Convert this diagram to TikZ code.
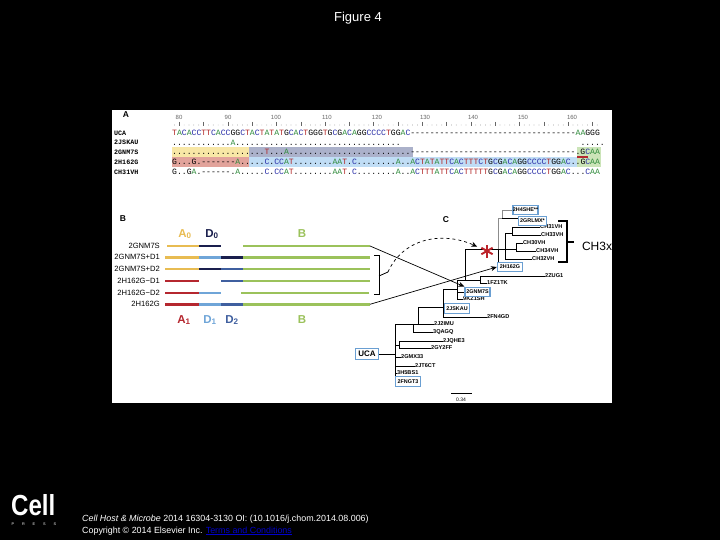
\documentclass[tikz,border=0pt]{standalone}
\usepackage{fontspec}
\setmainfont{Liberation Sans}
\setmonofont{Liberation Mono}
\usetikzlibrary{arrows.meta}
\definecolor{segyellow}{HTML}{E8BC52}
\definecolor{segnavy}{HTML}{1A1F4D}
\definecolor{seglight}{HTML}{6FA5D8}
\definecolor{segblue}{HTML}{3F5F9F}
\definecolor{seggreen}{HTML}{9BC25B}
\definecolor{segred}{HTML}{B5272F}
\definecolor{boxblue}{HTML}{6A9FD2}
\definecolor{hlyellow}{HTML}{F8E7A6}
\definecolor{hlgray}{HTML}{ABB1CA}
\definecolor{hlred}{HTML}{E2A39B}
\definecolor{hlblue}{HTML}{C0DDF5}
\definecolor{hlgreen}{HTML}{CBE4B8}
\definecolor{baseA}{HTML}{2E8B3A}
\definecolor{baseC}{HTML}{2A2FA8}
\definecolor{baseT}{HTML}{B02020}
% colours one alignment row letter by letter
\def\seqletter#1{%
  \ifx#1A\textcolor{baseA}{A}\else
  \ifx#1C\textcolor{baseC}{C}\else
  \ifx#1T\textcolor{baseT}{T}\else
  \ifx#1_\phantom{.}\else #1\fi\fi\fi\fi}
\def\seqrun#1{\ifx#1\relax\else\seqletter{#1}\expandafter\seqrun\fi}
\newcommand{\alnseq}[1]{\seqrun#1\relax}
\tikzset{
  seqrow/.style={anchor=west, inner sep=0pt, font=\fontsize{8.1}{9}\ttfamily},
  seqname/.style={anchor=west, inner sep=0pt, font=\fontsize{6.7}{8}\ttfamily\bfseries},
  rulernum/.style={inner sep=0pt, text=black!60, font=\fontsize{6}{7}\selectfont},
  panel/.style={inner sep=0pt, font=\fontsize{8.5}{10}\bfseries},
  segname/.style={inner sep=0pt, font=\fontsize{7.6}{9}\selectfont, anchor=east},
  seghead/.style={inner sep=0pt, font=\fontsize{11.5}{13}\bfseries},
  bar/.style={line width=2.4pt},
  branch/.style={line width=0.8pt},
  faint/.style={line width=0.6pt, black!45},
  leaf/.style={anchor=west, inner sep=0pt, font=\fontsize{5.6}{7}\bfseries},
  strain/.style={draw=boxblue, line width=1.3pt, fill=white, inner sep=0pt,
    minimum width=25pt, minimum height=9.5pt, font=\fontsize{5.4}{7}\bfseries},
  pointer/.style={line width=0.7pt, -{Stealth[length=6pt,width=5pt]}},
}
\begin{document}
\begin{tikzpicture}[x=1pt,y=-1pt]
\useasboundingbox (0,0) rectangle (720,540);
\fill[black] (0,0) rectangle (720,540);
\fill[white] (112,110) rectangle (612,403);
\node[text=white, font=\fontsize{13}{15}\selectfont] (title) at (358,18) {Figure 4};

% panel A
\node[panel] (lba) at (126,115) {A};
\fill[hlyellow] (172,147) rectangle (249,157);
\fill[hlgray] (249,147) rectangle (413,157);
\fill[hlred] (172,157) rectangle (249,167);
\fill[hlblue] (249,157) rectangle (577,167);
\fill[hlgreen] (577,147) rectangle (601,167);
\fill[segred] (577,155.6) rectangle (588,158);
\foreach \num/\xx in {80/179,90/228,100/276,110/327,120/377,130/425,140/473,150/523,160/572}
  \node[rulernum] at (\xx,117) {\num};
\foreach \i in {0,...,87} {
  \pgfmathsetmacro{\xx}{174.4+\i*4.86}
  \pgfmathtruncatemacro{\rr}{mod(\i+4,5)}
  \ifnum\rr=0 \draw[black!60, line width=0.4pt] (\xx,122) -- (\xx,126);
  \else \fill[black!60] (\xx,125) circle (0.35pt); \fi
}
\node[seqname] (uca0) at (114,133) {UCA};
\node[seqname] (jsk0) at (114,142.5) {2JSKAU};
\node[seqname] (gnm0) at (114,152) {2GNM7S};
\node[seqname] (h1620) at (114,162) {2H162G};
\node[seqname] (ch310) at (114,172) {CH31VH};
\node[seqrow] (ucaseq) at (172,133) {\alnseq{TACACCTTCACCGGCTACTATATGCACTGGGTGCGACAGGCCCCTGGAC----------------------------------AAGGG}};
\node[seqrow] (jskseq) at (172,142.5) {\alnseq{............A.................................._____________________________________.....}};
\node[seqrow] (gnmseq) at (172,152) {\alnseq{...................T...A.........................----------------------------------.GCAA}};
\node[seqrow] (h162seq) at (172,162) {\alnseq{G...G.-------A.....C.CCAT........AAT.C........A..ACTATATTCACTTTCTGCGACAGGCCCCTGGAC..GCAA}};
\node[seqrow] (ch31seq) at (172,172) {\alnseq{G..GA.------.A.....C.CCAT........AAT.C........A..ACTTTATTCACTTTTTGCGACAGGCCCCTGGAC...CAA}};

% panel B
\node[panel] (lbb) at (123,219) {B};
\node[seghead, text=segyellow] (a0) at (185,234) {A$_{\mathbf 0}$};
\node[seghead, text=segnavy] (d0) at (212,234) {D$_{\mathbf 0}$};
\node[seghead, text=seggreen] (b0) at (302,234) {B};
\node[seghead, text=segred] (a1) at (184,320) {A$_{\mathbf 1}$};
\node[seghead, text=seglight] (d1) at (210,320) {D$_{\mathbf 1}$};
\node[seghead, text=segblue] (d2) at (232,320) {D$_{\mathbf 2}$};
\node[seghead, text=seggreen] (b1) at (302,320) {B};
\foreach \txt/\yy in {2GNM7S/246,2GNM7S+D1/257.3,2GNM7S+D2/269,2H162G\textminus D1/281,2H162G\textminus D2/292.7,2H162G/304.3}
  \node[segname] at (160,\yy) {\txt};
\foreach \xa/\xb/\yy/\col in {
  167/199/246/segyellow, 199/221/246/segnavy, 243/370/246/seggreen,
  165/199/257.3/segyellow, 199/221/257.3/seglight, 221/243/257.3/segnavy, 243/370/257.3/seggreen,
  165/199/269/segyellow, 199/221/269/segnavy, 221/243/269/segblue, 243/370/269/seggreen,
  165/199/281/segred, 221/243/281/segblue, 243/370/281/seggreen,
  165/199/292.7/segred, 199/221/292.7/seglight, 241/369/292.7/seggreen,
  165/199/304.3/segred, 199/221/304.3/seglight, 221/243/304.3/segblue, 243/370/304.3/seggreen}
  \draw[bar, \col] (\xa,\yy) -- (\xb,\yy);
\coordinate (top7s) at (370,246);
\coordinate (top162) at (370,304.3);
\coordinate (brkmid) at (379,276);
\coordinate (brktip) at (388,272);
\draw[line width=0.8pt] (374,255.7) -- (379,255.7) -- (379,294.3) -- (374,294.3);
\draw[line width=0.8pt] (brkmid) -- (brktip);

% panel C
\node[panel] (lbc) at (446,220) {C};
\coordinate (n0) at (395,354);
\coordinate (n1) at (418,324);
\coordinate (n2) at (413,324);
\coordinate (n3) at (443,307);
\coordinate (n4) at (457,289);
\coordinate (n5) at (465,280);
\coordinate (n6) at (480,280);
\coordinate (n7) at (498,249);
\coordinate (n8) at (505,249);
\coordinate (n9) at (512,233);
\coordinate (n10) at (516,249);
\coordinate (n11) at (502,218);
\coordinate (n12) at (395,345);
\coordinate (n13) at (399,345);
\node[leaf] (ch31) at (540,227) {CH31VH};
\node[leaf] (ch33) at (541,235) {CH33VH};
\node[leaf] (ch30) at (523,243) {CH30VH};
\node[leaf] (ch34) at (536,251) {CH34VH};
\node[leaf] (ch32) at (532,259) {CH32VH};
\node[leaf] (zug) at (545,276) {2ZUG1};
\node[leaf] (fz) at (487,283) {1FZ1TK};
\node[leaf] (kz) at (463,299) {9KZ1SH};
\node[leaf] (fnd) at (487,317) {2FN4GD};
\node[leaf] (jmu) at (434,324) {2J2IMU};
\node[leaf] (qag) at (433,332) {3QAGQ};
\node[leaf] (jqh) at (443,341) {2JQHE3};
\node[leaf] (gyf) at (431,348) {2GY2FF};
\node[leaf] (gmx) at (401,357) {2GMX33};
\node[leaf] (jtc) at (415,366) {2JT6CT};
\node[leaf] (hbs) at (397,373) {3H5BS1};
\draw[branch] (n0) |- (n1);
\draw[branch] (n1) |- (jmu.west);
\draw[branch] (n2) |- (qag.west);
\draw[branch] (n1) |- (n3);
\draw[branch] (n3) |- (fnd.west);
\draw[branch] (n3) |- (n4);
\draw[branch] (n4) |- (n5);
\draw[branch] (n4) |- (kz.west);
\draw[branch] (n5) -- (n6);
\draw[line width=1pt] (n6) |- (zug.west);
\draw[branch] (n6) |- (fz.west);
\draw[branch] (n5) |- (n7);
\draw[branch] (n7) -- (n8);
\draw[branch] (n8) |- (ch32.west);
\draw[branch] (n8) |- (n9);
\draw[branch] (n9) |- (ch31.west);
\draw[branch] (n9) |- (ch33.west);
\draw[branch] (n8) -- (n10);
\draw[branch] (n10) |- (ch30.west);
\draw[branch] (n10) |- (ch34.west);
\draw[faint] (n7) |- (n11);
\draw[branch] (n0) |- (jtc.west);
\draw[branch] (n0) |- (gmx.west);
\draw[branch] (n0) |- (hbs.west);
\draw[branch] (n12) -- (n13);
\draw[line width=1pt] (n13) |- (jqh.west);
\draw[branch] (n13) |- (gyf.west);
\node[strain] (she) at (525.5,210) {2H4SHE**};
\node[strain, minimum width=28pt] (rlm) at (532.5,221) {2GRLMX*};
\node[strain] (h162) at (510,267) {2H162G};
\node[strain] (g7) at (477.5,292) {2GNM7S};
\node[strain] (jsk) at (457,308.5) {2JSKAU};
\node[strain] (fng) at (408,381.5) {2FNGT3};
\node[strain, minimum width=23pt, minimum height=11pt, font=\fontsize{8}{9}\bfseries] (uca) at (367,354) {UCA};
\draw[branch] (uca) -- (n0);
\draw[branch] (n7) -- (n7 |- h162.north);
\draw[branch] (n4) |- (g7.west);
\draw[branch] (n0) -- (n0 |- fng.north);
\draw[branch] (n11) -- (rlm.west |- n11);
\draw[faint] (n11) |- (she.west);

% CH3x clade bracket
\coordinate (clmid) at (567,242);
\coordinate (cltip) at (574,242);
\draw[line width=1.1pt] (558,221) -- (567,221) -- (567,262) -- (558,262);
\draw[line width=1.1pt] (clmid) -- (cltip);
\node[inner sep=0pt, font=\fontsize{12}{14}\selectfont] (ch3x) at (597,246) {CH3x};

% red asterisk
\node[circle, minimum size=21pt, inner sep=0pt] (ast) at (487,251) {};
\foreach \ang in {90,150,210,270,330,30}
  \draw[segred!90!red, line width=1.9pt] (ast.center) -- ++(\ang:6.5);
\draw[pointer, dashed] (brktip) .. controls (402,240) and (440,230) .. (ast);
\draw[pointer] (top7s) -- (g7.north west);
\draw[pointer] (top162) -- (h162.west);

% scale bar
\coordinate (sca) at (451,393);
\coordinate (scb) at (472,393);
\draw[line width=0.8pt] (sca) -- (scb);
\node[inner sep=0pt, font=\fontsize{5}{6}\selectfont] (sclab) at (461,400) {0.34};

% footer
\node[text=white, anchor=west, inner sep=0pt, xscale=0.83, transform shape, font=\fontsize{29}{30}\bfseries] (cell) at (11,505) {Cell};
\foreach \ltr/\xx in {P/13,R/23.5,E/34,S/44.5,S/55}
  \node[text=white, inner sep=0pt, font=\fontsize{3.8}{4}\selectfont] at (\xx,524.5) {\ltr};
\node[text=white, anchor=west, inner sep=0pt, font=\fontsize{8.9}{10}\selectfont] (cite) at (82,519) {\textit{Cell Host \& Microbe} 2014 16304-3130 OI: (10.1016/j.chom.2014.08.006)};
\node[text=white, anchor=west, inner sep=0pt, font=\fontsize{8.9}{10}\selectfont] (copy) at (82,531) {Copyright © 2014 Elsevier Inc. \textcolor{blue!80!black}{\underline{Terms and Conditions}}};
\end{tikzpicture}
\end{document}
